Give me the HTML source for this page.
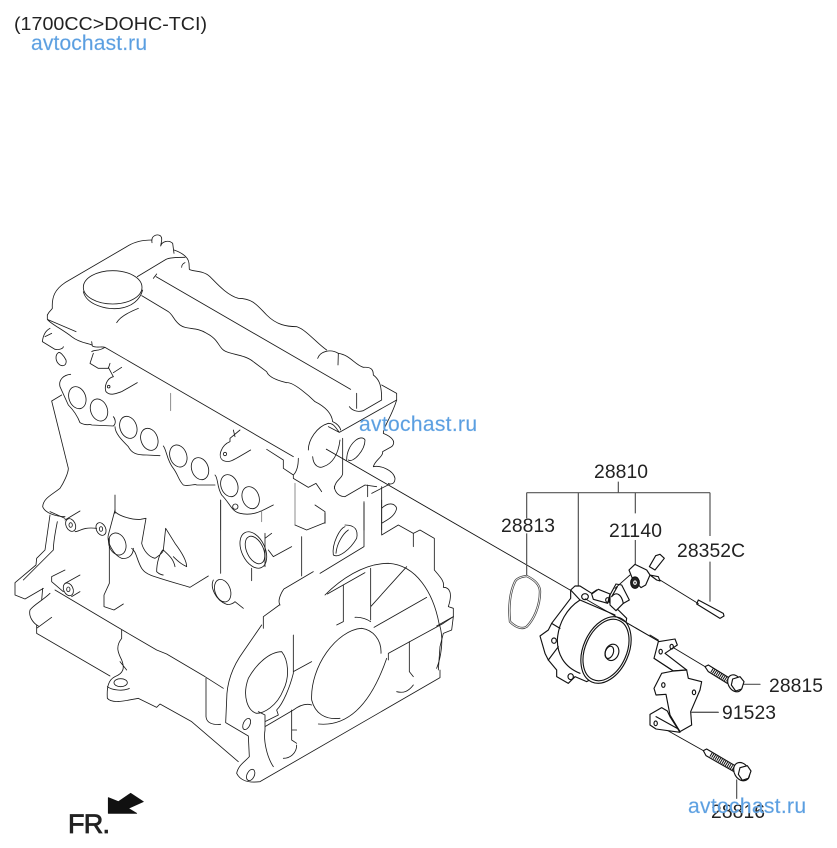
<!DOCTYPE html>
<html><head><meta charset="utf-8"><style>
html,body{margin:0;padding:0;background:#fff;width:837px;height:848px;overflow:hidden}
svg{display:block}
.d path,.d ellipse,.d circle,.d polygon{fill:none;stroke:#1a1a1a;stroke-width:2.5;stroke-linejoin:round;stroke-linecap:round}
.g path{stroke:#777}
.p path,.p ellipse,.p polygon{fill:none;stroke:#111;stroke-width:3.4;stroke-linejoin:round;stroke-linecap:round}
.p .w{fill:#fff}
.p .k{fill:#222}
.l path{fill:none;stroke:#555;stroke-width:3.6}
text{font-family:"Liberation Sans",sans-serif;fill:#222}
.n{font-size:19.3px}
.b{font-size:21px;fill:#5a9ee0;stroke:#8dbdec;stroke-width:.3}
</style></head><body>
<svg width="837" height="848" viewBox="0 0 837 848" xmlns="http://www.w3.org/2000/svg">

<g class="d" transform="translate(0,230) scale(.33333)">
<path d="M142,255C150,240 155,240 157,235C155,200 165,178 195,158L385,47C410,32 440,30 456,30"/>
<path d="M456,38C452,18 470,10 482,18C488,25 484,35 482,48C485,35 505,28 518,40L522,70"/>
<path d="M522,60C545,68 565,80 567,100L568,118C575,125 610,120 630,140C650,160 680,195 715,205C760,205 775,230 800,255C830,285 860,290 890,290C920,300 950,340 980,360"/>
<path d="M953,385C960,365 990,355 1015,370L1014,405M1015,370C1050,375 1065,405 1090,412C1115,410 1120,420 1120,435C1140,450 1145,470 1145,510L1090,542C1070,548 1055,540 1048,530"/>
<path d="M468,140L1052,478M460,145L470,132M1070,490L1070,535"/>
<ellipse cx="338" cy="172" rx="88" ry="50"/>
<path d="M250,185C260,225 320,240 360,235C395,230 420,210 428,180"/>
<path d="M412,140L498,88C510,82 540,82 555,82M545,112C545,105 550,100 555,98"/>
<path d="M425,197L505,245C520,255 520,270 540,285C560,300 590,290 620,310C650,325 655,345 665,355C680,375 730,370 760,395L800,425C805,440 825,450 860,458C880,455 930,500 945,515C975,530 995,550 998,575C1010,580 1020,590 1022,600"/>
<path d="M350,278C360,260 390,245 415,235"/>
<path d="M142,255L142,268L228,305M142,268C150,280 190,300 215,320C240,340 270,340 275,345M275,335L277,348C290,355 305,348 315,352L880,680"/>
<path d="M800,658L850,690L850,715L880,735C890,725 895,710 895,685M880,735L880,745L925,772L948,760L965,785"/>
<path d="M1018,607L1190,510L1190,490L1145,465M985,590L1018,607C1005,590 1000,580 985,580C950,590 925,630 925,660M938,680C940,710 960,715 970,710C1000,700 1015,670 1020,630"/>
<path d="M1028,625L1028,730C1028,745 1005,750 1003,775"/>
<path d="M1040,690C1040,640 1085,610 1095,630C1095,660 1060,700 1045,690"/>
<path d="M1190,510C1175,560 1150,590 1150,610C1175,620 1190,635 1175,650L1148,665C1150,680 1125,690 1120,710C1140,705 1180,720 1185,745C1185,760 1175,765 1165,760"/>
<path d="M1003,770C1005,790 1020,800 1035,800L1095,765L1130,770M1115,790L1170,762M1103,765L1103,800"/>
<path d="M1145,770L1145,900M1092,815L1092,900M1145,835C1165,815 1185,820 1190,835C1185,860 1160,870 1145,880"/>
<path d="M212,433C190,435 175,450 180,470L205,525C225,545 235,565 240,578C260,590 270,580 275,585L340,588C350,580 345,565 340,560"/>
<path d="M175,368C165,375 165,395 180,405C195,412 200,400 198,390C190,375 180,365 175,368"/>
<path d="M150,295C140,300 130,310 127,335L165,358C180,360 190,355 190,350M135,320L155,310"/>
<path d="M275,365C285,358 295,365 315,352M280,370L270,400L295,415L325,415L330,400M325,412L340,440M340,428L365,412"/>
<path d="M340,440C320,445 312,470 318,485C330,498 345,492 365,485L412,458"/><circle cx="326" cy="470" r="4"/>
<ellipse cx="232" cy="503" rx="25" ry="34" transform="rotate(-20 232 503)"/>
<ellipse cx="297" cy="540" rx="25" ry="34" transform="rotate(-20 297 540)"/>
<ellipse cx="385" cy="592" rx="25" ry="34" transform="rotate(-20 385 592)"/>
<ellipse cx="448" cy="628" rx="25" ry="34" transform="rotate(-20 448 628)"/>
<ellipse cx="535" cy="678" rx="25" ry="34" transform="rotate(-20 535 678)"/>
<ellipse cx="600" cy="716" rx="25" ry="34" transform="rotate(-20 600 716)"/>
<ellipse cx="688" cy="767" rx="25" ry="34" transform="rotate(-20 688 767)"/>
<ellipse cx="752" cy="803" rx="25" ry="34" transform="rotate(-20 752 803)"/>
<path d="M345,590C345,610 365,630 385,650C395,670 410,675 440,675L480,677M490,648C500,660 500,690 520,715C535,735 535,750 550,765C570,770 585,760 590,765L645,765M645,735C655,745 650,770 665,795C690,820 695,845 720,850C760,860 790,840 820,825"/>
<circle cx="706" cy="830" r="8"/>
<g class="g"><path d="M512,490L512,542M662,810L662,900M885,760L885,885M785,842L785,875"/></g>
<path d="M700,600L705,620M720,600L690,625L690,635M690,635C665,645 650,680 670,692C690,700 700,690 752,660"/><circle cx="675" cy="672" r="5"/>
<path d="M155,513L185,495M155,513L205,715C205,730 190,760 180,775C155,795 130,805 128,830C135,850 170,860 195,860M240,843L195,870"/>
<path d="M345,795L345,850M945,825L975,845M975,845L975,880"/>
</g>

<g class="d" transform="translate(0,500) scale(.33333)">
<path d="M150,45L135,150L110,175L108,195L45,248L45,285L75,297L130,265M172,65C165,100 160,130 160,150L70,240M128,265L125,300"/>
<path d="M155,230L195,210M155,230L155,245L190,275M195,250L240,225M215,290L240,275"/>
<ellipse cx="205" cy="268" rx="14" ry="20" transform="rotate(-25 205 268)"/><ellipse cx="205" cy="268" rx="5" ry="7"/>
<ellipse cx="212" cy="75" rx="14" ry="20" transform="rotate(-25 212 75)"/><ellipse cx="212" cy="75" rx="5" ry="7"/>
<ellipse cx="303" cy="87" rx="14" ry="20" transform="rotate(-25 303 87)"/><ellipse cx="303" cy="87" rx="5" ry="7"/>
<path d="M225,95C240,95 245,80 290,85M150,35L195,55"/>
<ellipse cx="352" cy="132" rx="25" ry="34" transform="rotate(-20 352 132)"/>
<path d="M345,30L325,105C320,125 340,165 365,175C385,178 400,165 400,145"/>
<path d="M345,35C360,50 400,60 422,58L438,55L425,130C430,150 445,170 465,175C480,165 490,155 490,150L497,85L525,130C540,150 560,180 560,200C550,195 540,190 520,170M488,150C480,160 470,185 470,215C480,225 490,225 490,225M490,150C505,165 520,175 525,200"/>
<path d="M395,145C410,155 410,180 425,205C440,225 445,225 570,262L625,228"/>
<path d="M328,115L328,250L312,285L312,320L342,330L370,312"/>
<path d="M662,0L662,220M640,240C630,260 645,300 680,313C690,315 700,310 705,305L730,325"/>
<ellipse cx="668" cy="272" rx="23" ry="35" transform="rotate(-20 668 272)"/>
<ellipse cx="760" cy="150" rx="35" ry="58" transform="rotate(-25 760 150)"/>
<ellipse cx="765" cy="150" rx="25" ry="44" transform="rotate(-25 765 150)"/>
<path d="M795,100L795,200M815,100L795,115M805,150L820,170L875,140M755,205L755,242"/>
<path d="M905,110L905,228M975,68L975,40M885,75L920,90L975,68"/>
<path d="M1035,80C1020,85 995,130 1000,165C1015,175 1050,150 1070,115C1075,90 1065,75 1035,75"/>
<path d="M1045,90C1030,100 1010,130 1008,160"/>
<path d="M1092,10L1092,140L960,220"/>
<path d="M1145,0L1145,105L1195,75L1240,100L1240,140M1240,100L1260,90L1303,115L1303,210C1320,230 1335,245 1330,262C1350,262 1358,280 1345,320L1360,325L1360,350L1310,378"/>
<path d="M975,285C1020,240 1090,190 1165,190C1250,195 1300,280 1317,370C1335,420 1320,480 1310,505"/>
<path d="M982,282L1095,218M1030,255L1030,365L1010,375M1112,205L1112,360M1112,320L1220,200M1065,352C1085,350 1105,360 1112,365M1122,382L1280,292"/>
<path d="M840,315C830,300 850,265 855,265L940,215M838,315L790,350L790,385M785,375L730,455C690,510 680,560 680,600L677,668L745,708L748,770C735,785 715,795 710,820C720,840 740,850 780,845L1320,533L1320,510M1360,350L1355,390L1330,400L1320,440L1315,510"/>
<path d="M1143,460C1145,420 1120,390 1085,385C1010,390 930,500 935,600C945,640 975,660 1020,655M955,672C1040,680 1110,620 1160,475M1165,480L1165,460L1330,370L1360,350"/>
<path d="M845,455C810,455 770,490 745,535C725,590 745,635 770,640C790,640 830,620 850,570C870,530 865,480 845,455"/>
<path d="M880,405L880,520C870,560 850,610 830,630L835,645L795,665L795,680L880,630C900,615 920,610 935,615M880,515L935,485M775,635L795,645L795,690C790,720 800,770 820,800"/>
<path d="M875,630L875,720L890,730M875,690L890,690M890,735C890,760 870,775 850,775M1228,425L1228,515L1240,530M1240,555C1225,575 1210,580 1190,575"/>
<ellipse cx="740" cy="672" rx="10" ry="18" transform="rotate(25 740 672)"/>
<ellipse cx="752" cy="825" rx="11" ry="18" transform="rotate(25 752 825)"/>
<path d="M110,375L110,400L330,528M110,385L155,352M90,330C100,315 130,300 150,280M90,330C85,350 100,370 115,378"/>
<path d="M165,270L350,380L470,450L500,462L615,530L670,565"/>
<path d="M365,390L365,415C345,440 355,460 365,480C375,505 370,520 345,530C325,540 320,560 322,595C335,610 365,605 415,595L470,622L480,612L575,665L715,785M360,485L380,510M322,560C335,570 370,575 388,565"/>
<ellipse cx="362" cy="548" rx="20" ry="12"/>
<path d="M618,535L618,650C620,670 640,675 662,673"/>
<polygon points="325,940 325,893 355,905 392,880 430,905 385,925 410,940" style="fill:#111;stroke:#111"/>
</g>

<path d="M326,449L660,642" fill="none" stroke="#111" stroke-width=".9"/>

<g class="l" transform="translate(480,450) scale(.33333)">
<path d="M140,128L690,128M140,128L140,205M140,250L140,378M295,128L295,408M415,95L415,128M466,128L466,190M466,270L466,342M690,128L690,258M690,335L690,455M635,787L715,787"/>
</g>

<g class="p" transform="translate(480,450) scale(.33333)">
<path d="M140,378C125,380 110,385 105,395C90,425 85,470 90,515C105,530 125,540 140,530C160,510 180,470 180,425C180,405 165,390 140,378" style="stroke:#444;stroke-width:7"/>
<path d="M140,378C125,380 110,385 105,395C90,425 85,470 90,515C105,530 125,540 140,530C160,510 180,470 180,425C180,405 165,390 140,378" style="stroke:#fff;stroke-width:2.5"/>
<path class="w" d="M272,420L285,408L300,408L335,430L350,420L378,435L395,470L415,480L440,505L420,640L320,695L285,680L265,700L230,680L230,660L205,630L195,610L180,558L205,540L215,520L272,445Z"/>
<path d="M272,420L300,450M300,450C260,475 235,520 232,570C232,610 250,650 300,670M300,450L405,495M215,520L240,535M205,630L235,590"/>
<ellipse class="w" cx="378" cy="600" rx="68" ry="105" transform="rotate(24 378 600)"/>
<ellipse cx="378" cy="600" rx="62" ry="97" transform="rotate(24 378 600)"/>
<ellipse class="w" cx="396" cy="607" rx="20" ry="25" transform="rotate(20 396 607)"/>
<ellipse cx="388" cy="607" rx="12" ry="19" transform="rotate(20 388 607)"/>
<ellipse cx="315" cy="440" rx="10" ry="9"/><ellipse cx="382" cy="448" rx="7" ry="8"/><ellipse cx="222" cy="572" rx="7" ry="8"/><ellipse cx="272" cy="680" rx="8" ry="9"/>
<polygon class="w" points="655,450 730,490 732,498 720,505 650,462"/>
</g>

<!-- pump flange and vacuum fitting -->
<g class="p" transform="translate(530,570) scale(.33333)">
<path class="w" d="M185,72L205,58L240,72L233,100L190,88Z"/>
<path class="w" d="M240,75L258,42L275,45L298,90L280,100L258,122L240,105Z"/>
<path d="M245,80C260,62 275,75 280,100M262,50L245,80"/>
<ellipse cx="233" cy="90" rx="6" ry="7"/>
</g>
<path d="M326,449L660,642" fill="none" stroke="#111" stroke-width=".9" stroke-dasharray="0 299 88 500"/>

<g class="p" transform="translate(605,545) scale(.33333)">
<path d="M135,90L160,95L165,108L155,105Z"/>
<path d="M165,105L280,176" style="stroke-width:2.7"/>
<path d="M75,90L30,130" style="stroke-width:2.7"/>
<path class="w" d="M133,65L152,32L165,28L178,40L150,75Z"/>
<path class="w" d="M72,75L90,58L125,75L135,90L122,120L108,128L82,100Z"/>
<ellipse class="k" cx="90" cy="113" rx="13" ry="17"/><ellipse cx="90" cy="113" rx="4" ry="5" style="stroke:#fff"/>
</g>

<g class="p" transform="translate(640,635) scale(.33333)">
<path d="M30,0L55,15" style="stroke-width:2.7"/>
<path d="M100,38L195,95M50,268L190,347" style="stroke-width:2.7"/>
<path class="w" d="M42,70L55,20L105,12L112,30L75,55L140,105L100,108Z"/>
<path class="w" d="M42,70L100,108L65,115L42,160L48,180L78,178L90,240L120,290L155,270L152,230L180,165L185,140L145,130L140,105L100,108Z"/>
<path class="w" d="M30,238L65,218L82,228L90,245L120,292L48,282L30,270Z"/>
<path d="M48,245L115,282L120,290"/>
<ellipse cx="62" cy="50" rx="5" ry="7"/><ellipse cx="95" cy="35" rx="5" ry="7"/><ellipse cx="70" cy="150" rx="5" ry="7"/><ellipse cx="162" cy="172" rx="5" ry="7"/><ellipse cx="47" cy="265" rx="5" ry="7"/>
<path d="M155,232L235,232M312,148L360,148M290,435L290,490" style="stroke:#555;stroke-width:3.6"/>
<path class="w" d="M195,95L205,90L270,130L262,145L205,110Z"/>
<path d="M215,105L262,135" style="stroke-width:14;stroke-dasharray:3 3;stroke-linecap:butt"/>
<ellipse class="w" cx="285" cy="145" rx="20" ry="27" transform="rotate(-30 285 145)"/>
<polygon class="w" points="278,132 300,125 312,140 305,162 287,168 274,150"/>
<path class="w" d="M190,347L200,342L290,395L282,410L198,362Z"/>
<path d="M212,358L285,403" style="stroke-width:14;stroke-dasharray:3 3;stroke-linecap:butt"/>
<ellipse class="w" cx="305" cy="410" rx="22" ry="29" transform="rotate(-30 305 410)"/>
<polygon class="w" points="300,398 322,392 333,408 325,430 307,436 295,418"/>
</g>

<text x="14" y="30" font-size="18" textLength="193" lengthAdjust="spacingAndGlyphs">(1700CC&gt;DOHC-TCI)</text>
<text class="n" x="594" y="478" textLength="54">28810</text>
<text class="n" x="501" y="532" textLength="54">28813</text>
<text class="n" x="609" y="537" textLength="53">21140</text>
<text class="n" x="677" y="557" textLength="68">28352C</text>
<text class="n" x="769" y="692" textLength="54">28815</text>
<text class="n" x="722" y="719" textLength="54">91523</text>
<text class="n" x="711" y="818" textLength="54">28816</text>
<text x="68" y="833" font-size="27" stroke="#222" stroke-width=".8" textLength="42">FR.</text>
<text class="b" x="31" y="50" textLength="116">avtochast.ru</text>
<text class="b" x="359" y="431" textLength="118">avtochast.ru</text>
<text class="b" x="688" y="813" textLength="118">avtochast.ru</text>
</svg>
</body></html>
